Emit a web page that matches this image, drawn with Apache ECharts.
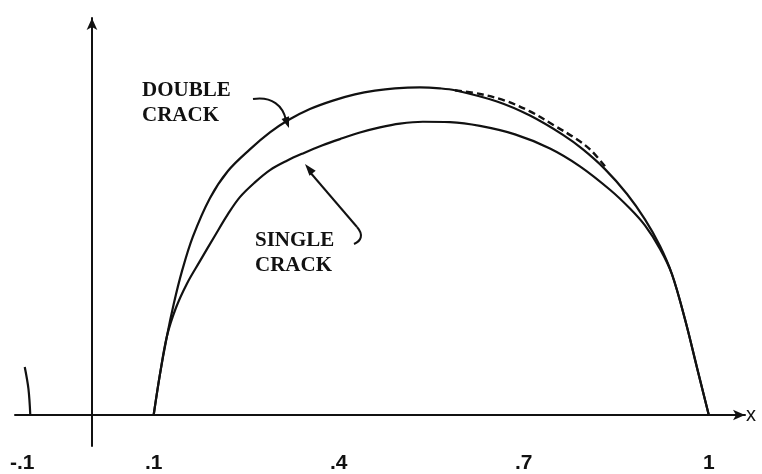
<!DOCTYPE html>
<html>
<head>
<meta charset="utf-8">
<script src="https://cdn.jsdelivr.net/npm/echarts@6/dist/echarts.min.js"></script>
<style>
    html, body { margin: 0; padding: 0; background: #fff; }
    #chart { width: 762px; height: 474px; }
</style>
</head>
<body>
<div id="chart"></div>
<script>
// tick labels on the x axis
var tickValues = [-0.1, 0.1, 0.4, 0.7, 1];
var tickLabels = ['-.1', '.1', '.4', '.7', '1'];

// double crack curve (solid)
var doubleX = [0.1, 0.1101, 0.1215, 0.1328, 0.1458, 0.1636, 0.1912, 0.2204, 0.256, 0.2885, 0.3177, 0.3533, 0.3906,
    0.4263, 0.4587, 0.4912, 0.5317, 0.5641, 0.5885, 0.6566, 0.7101, 0.7636, 0.796, 0.8317, 0.8674, 0.8965, 0.9209,
    0.9403, 0.9614, 0.9809, 1.0];
var doubleY = [0, 0.0697, 0.1362, 0.193, 0.2481, 0.3081, 0.3746, 0.4216, 0.4589, 0.4881, 0.5092, 0.5286, 0.5432,
    0.5539, 0.5604, 0.5643, 0.5659, 0.5643, 0.561, 0.5416, 0.5173, 0.484, 0.4589, 0.4248, 0.3819, 0.3381, 0.2919,
    0.2432, 0.1654, 0.0817, 0];

// dashed branch of the double crack curve
var dashX = [0.5885, 0.629, 0.6695, 0.7101, 0.7506, 0.7831, 0.8074, 0.8317];
var dashY = [0.561, 0.5546, 0.5432, 0.5246, 0.4994, 0.4784, 0.4589, 0.4297];

// single crack curve
var singleX = [0.1, 0.1101, 0.1215, 0.136, 0.1539, 0.175, 0.1993, 0.2204, 0.2398, 0.2641, 0.2885, 0.316, 0.342,
    0.3728, 0.402, 0.4344, 0.4668, 0.4993, 0.5366, 0.5803, 0.629, 0.6858, 0.7425, 0.7911, 0.8398, 0.8722, 0.8965,
    0.9209, 0.9403, 0.9614, 0.9809, 1.0];
var singleY = [0, 0.0697, 0.1362, 0.1849, 0.227, 0.2659, 0.3097, 0.347, 0.3765, 0.402, 0.4232, 0.4394, 0.452,
    0.4655, 0.4767, 0.4881, 0.497, 0.5035, 0.5067, 0.5059, 0.4994, 0.4848, 0.4605, 0.4297, 0.3892, 0.3567, 0.3275,
    0.287, 0.2432, 0.1654, 0.0817, 0];

// short piece of curve at x = -.1
var leftX = [-0.1, -0.103, -0.109];
var leftY = [0, 0.045, 0.083];

function pairs(xs, ys) {
    var out = [], i;
    for (i = 0; i < xs.length; i++) {
        out.push([xs[i], ys[i]]);
    }
    return out;
}

function arrowHead(tx, ty, fx, fy, len, half) {
    var dx = tx - fx, dy = ty - fy,
        d = Math.sqrt(dx * dx + dy * dy),
        ux = dx / d, uy = dy / d,
        bx = tx - ux * len, by = ty - uy * len;
    return [[tx, ty], [bx - uy * half, by + ux * half], [bx + uy * half, by - ux * half]];
}

var chart = echarts.init(document.getElementById('chart'));
var ink = '#111';
var lineCommon = {
    type: 'line',
    symbol: 'none',
    smooth: 0.35,
    silent: true
};

chart.setOption({
    animation: false,
    grid: {
        left: 15,
        right: 17,
        top: 18,
        bottom: 0
    },
    xAxis: {
        type: 'value',
        min: -0.1248,
        max: 1.0587,
        axisLine: {
            show: true,
            onZero: true,
            symbol: ['none', 'arrow'],
            symbolSize: [8, 12],
            lineStyle: { color: ink, width: 2 }
        },
        axisTick: { show: false },
        splitLine: { show: false },
        axisLabel: {
            customValues: tickValues,
            margin: 7,
            color: ink,
            fontSize: 21,
            fontWeight: 'bold',
            fontFamily: 'Liberation Sans',
            formatter: function (v) {
                for (var i = 0; i < tickValues.length; i++) {
                    if (Math.abs(tickValues[i] - v) < 1e-9) {
                        return i === 0 ? '{n|' + tickLabels[i] + '}' : tickLabels[i];
                    }
                }
                return '';
            },
            rich: {
                n: {
                    padding: [0, 16, 0, 0],
                    color: ink,
                    fontSize: 21,
                    fontWeight: 'bold',
                    fontFamily: 'Liberation Sans'
                }
            }
        },
        name: 'x',
        nameLocation: 'end',
        nameGap: 1,
        nameTextStyle: {
            color: ink,
            fontSize: 20,
            fontFamily: 'Liberation Sans'
        }
    },
    yAxis: {
        type: 'value',
        min: -0.0535,
        max: 0.6859,
        axisLine: {
            show: true,
            onZero: true,
            symbol: ['none', 'arrow'],
            symbolSize: [8, 12],
            lineStyle: { color: ink, width: 2 }
        },
        axisTick: { show: false },
        axisLabel: { show: false },
        splitLine: { show: false }
    },
    series: [
        echarts.util.merge({
            name: 'DOUBLE CRACK',
            data: pairs(doubleX, doubleY),
            lineStyle: { color: ink, width: 2.2 }
        }, lineCommon),
        echarts.util.merge({
            name: 'DOUBLE CRACK (dashed)',
            data: pairs(dashX, dashY),
            lineStyle: { color: ink, width: 2.4, type: [7, 4] }
        }, lineCommon),
        echarts.util.merge({
            name: 'SINGLE CRACK',
            data: pairs(singleX, singleY),
            lineStyle: { color: ink, width: 2.2 }
        }, lineCommon),
        echarts.util.merge({
            name: 'left',
            data: pairs(leftX, leftY),
            lineStyle: { color: ink, width: 2.2 }
        }, lineCommon)
    ],
    graphic: [
        {
            type: 'text',
            left: 142,
            top: 78,
            style: {
                text: 'DOUBLE\nCRACK',
                font: 'bold 21px "Liberation Serif"',
                lineHeight: 25,
                fill: ink
            }
        },
        {
            type: 'text',
            left: 255,
            top: 228,
            style: {
                text: 'SINGLE\nCRACK',
                font: 'bold 21px "Liberation Serif"',
                lineHeight: 25,
                fill: ink
            }
        },
        {
            type: 'bezierCurve',
            shape: { x1: 253, y1: 99, cpx1: 272, cpy1: 96, cpx2: 283, cpy2: 106, x2: 286, y2: 120 },
            style: { stroke: ink, lineWidth: 2, fill: null }
        },
        {
            type: 'polygon',
            shape: { points: arrowHead(289, 128, 284, 114, 11, 4) },
            style: { fill: ink }
        },
        {
            type: 'polyline',
            shape: { points: [[309, 171], [357, 227]] },
            style: { stroke: ink, lineWidth: 2, fill: null }
        },
        {
            type: 'bezierCurve',
            shape: { x1: 357, y1: 227, cpx1: 364, cpy1: 235, cpx2: 361, cpy2: 241, x2: 354, y2: 244 },
            style: { stroke: ink, lineWidth: 2, fill: null }
        },
        {
            type: 'polygon',
            shape: { points: arrowHead(305, 164, 314, 175, 12, 4) },
            style: { fill: ink }
        }
    ]
});
</script>
</body>
</html>
